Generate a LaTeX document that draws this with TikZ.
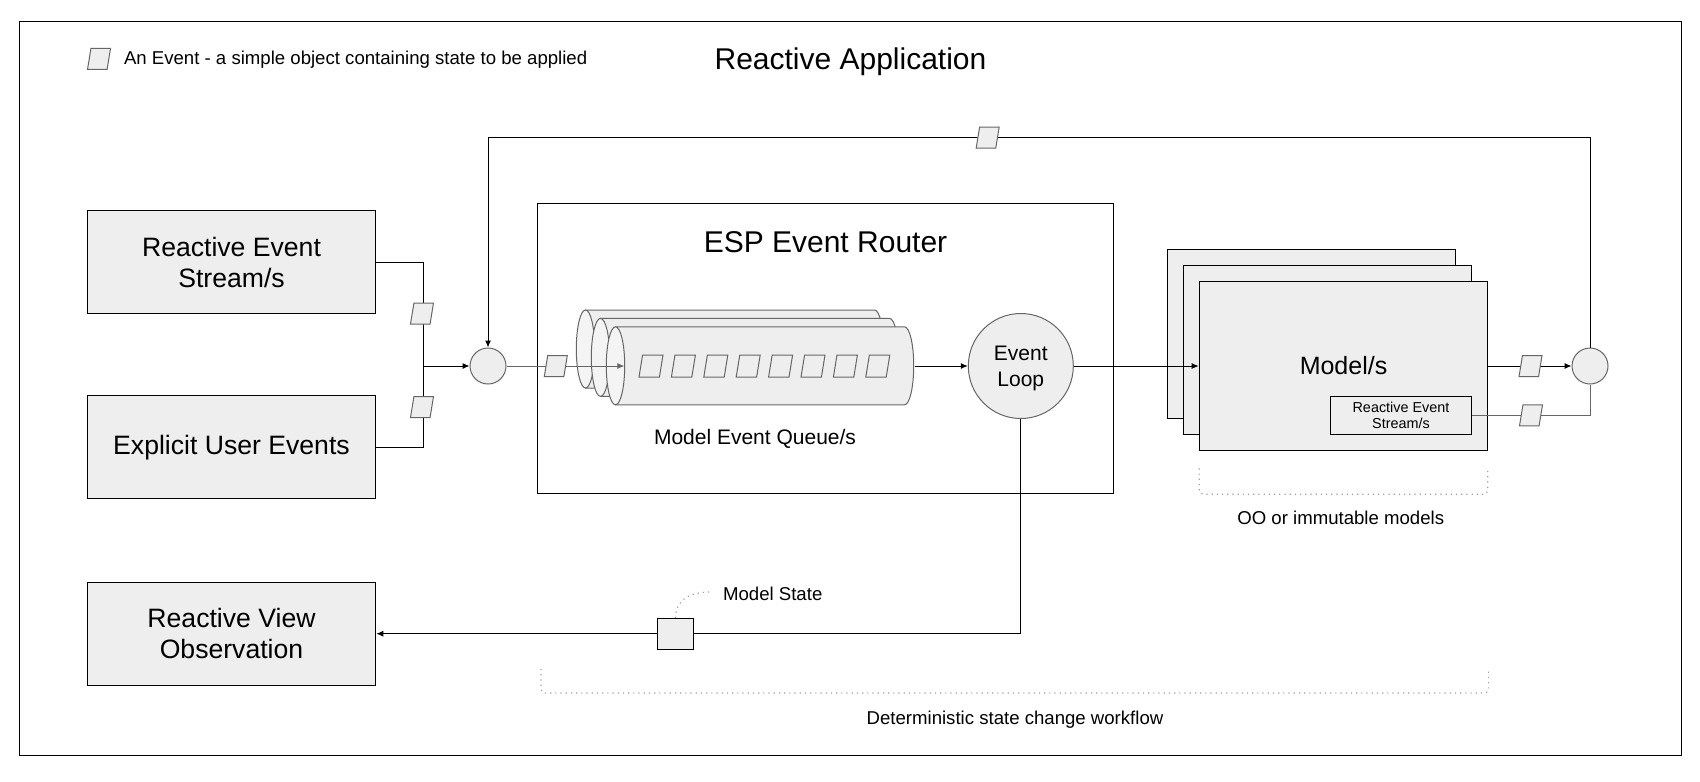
\documentclass[tikz,border=0pt]{standalone}
\usepackage{fontspec}
\setmainfont{Liberation Sans}
\usetikzlibrary{positioning,shapes.geometric,arrows.meta}

\definecolor{boxgray}{HTML}{EEEEEE}
\definecolor{facegray}{HTML}{F4F4F4}
\definecolor{rimgray}{HTML}{666666}
\definecolor{dotgray}{HTML}{A0A0A0}

\tikzset{
  block/.style={draw, line width=0.6pt, fill=boxgray, align=center, minimum width=144.2pt, inner sep=0pt},
  evt/.style={trapezium, trapezium left angle=78, trapezium right angle=102, trapezium stretches=true,
    draw=rimgray, fill=boxgray, line width=0.5pt, minimum width=11.5pt, minimum height=10.5pt, inner sep=1pt},
  hub/.style={circle, draw=rimgray, fill=boxgray, line width=0.5pt, minimum size=18pt, inner sep=0pt},
  link/.style={line width=0.5pt},
  arr/.style={link, -{Latex[length=3.5pt,width=3pt]}},
  cyl/.style={draw=rimgray, line width=0.5pt},
  brace/.style={dotgray, dotted, line width=0.6pt, rounded corners=2pt},
  lbl/.style={inner sep=0pt, font=\fontsize{9.3}{11}\selectfont},
}

\begin{document}
\begin{tikzpicture}[x=0.5pt, y=-0.5pt]

\useasboundingbox (0,0) rectangle (1700,781);
\draw[line width=0.5pt] (19,21.5) rectangle (1681.5,755.5);

\node[font=\fontsize{15}{18}\selectfont] (title) at (850.5,62) {Reactive Application};
\node[evt] (legevt) at (99,59) {};
\node[lbl, anchor=west] (legtext) at (123.6,59.5) {An Event - a simple object containing state to be applied};

\node[block, minimum height=51.5pt, font=\fontsize{13.3}{15.5}\selectfont] (streams) at (231.5,262) {Reactive Event\\Stream/s};
\node[block, minimum height=51.5pt, font=\fontsize{13.3}{15.5}\selectfont] (user) at (231.5,447.2) {Explicit User Events};
\node[block, minimum height=51.5pt, font=\fontsize{13.3}{15.5}\selectfont] (view) at (231.5,633.7) {Reactive View\\Observation};

\node[draw, line width=0.6pt, minimum width=288pt, minimum height=144.75pt, inner sep=0pt] (router) at (825.3,348.55) {};
\node[font=\fontsize{15}{18}\selectfont] (routertitle) at (825.5,242.5) {ESP Event Router};

\foreach \k in {0,1,2} {
  \path[cyl, fill=boxgray] ({585.5+15*\k},{349+8.4*\k-39}) -- ++(289,0)
    arc[start angle=90, end angle=-90, x radius=4.6pt, y radius=19.5pt] -- ++(-289,0) -- cycle;
  \draw[cyl, fill=facegray] ({585.5+15*\k},{349+8.4*\k}) ellipse [x radius=4.6pt, y radius=19.5pt];
}
\foreach \i in {0,...,7}
  \node[evt, fill=none, minimum height=11pt, minimum width=12pt] (q\i) at ({651+32.4*\i},366) {};
\coordinate (qin) at (624.4,366);
\coordinate (qout) at (915,366);
\node[font=\fontsize{10.5}{12}\selectfont] (queuelabel) at (755,439) {Model Event Queue/s};

\node[hub, minimum size=52.5pt, align=center, text depth=0pt, font=\fontsize{10.5}{13.2}\selectfont] (loop) at (1020.8,366) {Event\\Loop};

\node[block, minimum height=84.5pt] (mback) at (1311.3,333.8) {};
\node[block, minimum height=84.5pt] (mmid) at (1327.5,349.7) {};
\node[block, minimum height=84.5pt, font=\fontsize{12.5}{14}\selectfont] (mod) at (1343.5,366) {Model/s};
\node[draw, line width=0.6pt, fill=boxgray, minimum width=70.7pt, minimum height=19pt, inner sep=0pt,
  align=center, font=\fontsize{7.2}{8}\selectfont] (modstream) at (1401,415.3) {Reactive Event\\Stream/s};

\node[hub] (hubL) at (488,366) {};
\node[hub] (hubR) at (1590,366) {};

\coordinate (join) at (423,366);
\coordinate (loopback) at (488,137.5);
\draw[link] (streams.east) -| (join);
\draw[link] (user.east) -| (join);
\draw[arr] (join) -- (hubL);
\draw[arr, rimgray] (hubL) -- (qin);
\draw[arr] (qout) -- (loop);
\draw[arr] (loop) -- (mod);
\draw[arr] (mod) -- (hubR);
\draw[link, rimgray] (modstream.east) -| (hubR.south);
\draw[arr] (hubR.north) |- (loopback) -- (hubL.north);
\draw[arr] (loop.south) |- (view.east);

\node[evt] (e1) at (422,313.5) {};
\node[evt] (e2) at (422,407) {};
\node[evt] (e3) at (555.8,366) {};
\node[evt] (e4) at (987.7,137.5) {};
\node[evt] (e5) at (1530.5,366) {};
\node[evt] (e6) at (1531,415.3) {};

\node[draw, line width=0.6pt, fill=boxgray, minimum width=18.2pt, minimum height=15.5pt, inner sep=0pt] (mstate) at (675.5,634) {};
\node[lbl, anchor=west] (mstatelabel) at (722.7,594) {Model State};
\coordinate (mstatetip) at (712,592);
\draw[dotgray, dotted, line width=0.6pt] (mstate.north) .. controls (676,600) and (688,592) .. (mstatetip);

\draw[brace] (1199.3,468.3) |- (1487.7,494.3) -- (1487.7,468.3);
\node[lbl] (modelsnote) at (1340.7,517.5) {OO or immutable models};
\draw[brace] (541,669) |- (1488.6,693) -- (1488.6,669);
\node[lbl] (flownote) at (1015,720) {Deterministic state change workflow};

\end{tikzpicture}
\end{document}
